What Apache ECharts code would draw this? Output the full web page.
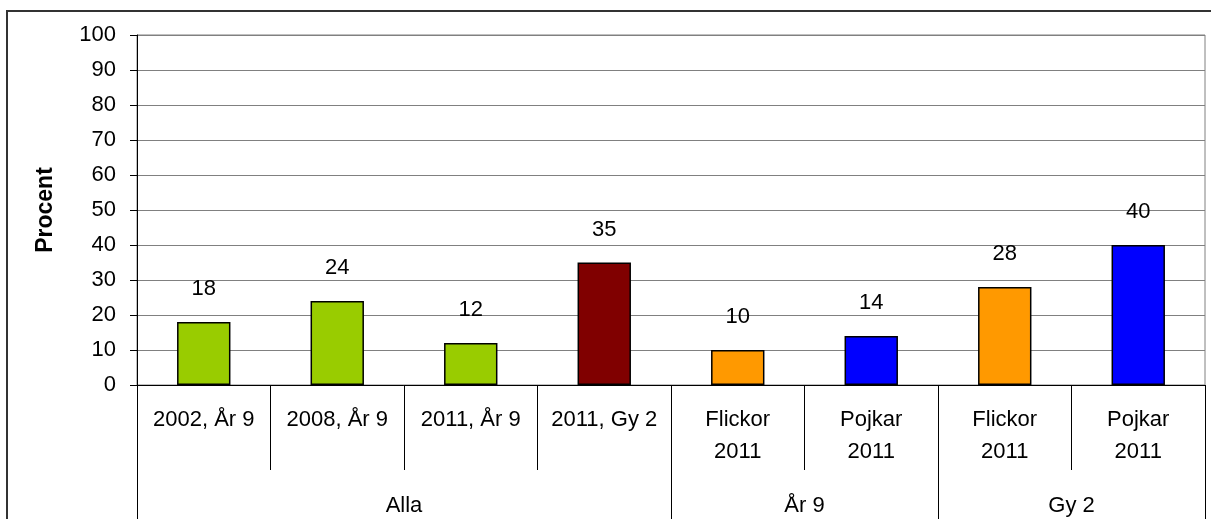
<!DOCTYPE html>
<html>
<head>
<meta charset="utf-8">
<script src="https://cdn.jsdelivr.net/npm/echarts@6/dist/echarts.min.js"></script>
<style>
    html, body { margin: 0; padding: 0; background: #fff; }
    #chart { width: 1211px; height: 519px; }
</style>
</head>
<body>
<div id="chart"></div>
<script>
// kategorier och värden
let categories = ["2002, År 9", "2008, År 9", "2011, År 9", "2011, Gy 2", "Flickor\n2011", "Pojkar\n2011", "Flickor\n2011", "Pojkar\n2011"];
let values = [18, 24, 12, 35, 10, 14, 28, 40];
let barColors = ["#99cc00", "#99cc00", "#99cc00", "#800000", "#ff9900", "#0000ff", "#ff9900", "#0000ff"];
// grupper under kategorierna
let groupNames = ["Alla", "År 9", "Gy 2"];
let groupCenters = [2, 5, 7];
let groupEdges = [0, 4, 6, 8];
let yTicks = [0, 10, 20, 30, 40, 50, 60, 70, 80, 90, 100];

let font = "Liberation Sans, Arial, sans-serif";
let mychart = echarts.init(document.getElementById("chart"));

let options = {
    animation: false,
    textStyle: { fontFamily: font },
    graphic: [{
        type: "polyline",
        shape: { points: [[7, 530], [7, 11], [1220, 11]] },
        style: { stroke: "#333", lineWidth: 2, fill: null }
    }],
    grid: { left: 137, top: 35, right: 6, bottom: 134, show: true, borderColor: "#808080", borderWidth: 1 },
    xAxis: [{
        type: "category",
        data: categories,
        axisLine: { lineStyle: { color: "#000", width: 1 } },
        axisTick: { show: true, interval: 0, length: 85, lineStyle: { color: "#000" } },
        axisLabel: { interval: 0, margin: 19, color: "#000", fontSize: 22, lineHeight: 32, fontFamily: font }
    }, {
        type: "value",
        position: "bottom",
        min: 0,
        max: 8,
        axisLine: { show: false },
        splitLine: { show: false },
        axisTick: { show: true, customValues: groupEdges, length: 140, lineStyle: { color: "#000" } },
        axisLabel: {
            customValues: groupCenters,
            margin: 110,
            color: "#000",
            fontSize: 22,
            fontFamily: font,
            formatter: function (v) {
                return groupNames[groupCenters.indexOf(v)];
            }
        }
    }],
    yAxis: {
        type: "value",
        min: 0,
        max: 100,
        interval: 10,
        name: "Procent",
        nameLocation: "middle",
        nameGap: 80,
        nameTextStyle: { fontWeight: "bold", fontSize: 23, color: "#000", fontFamily: font },
        axisLine: { show: true, lineStyle: { color: "#000" } },
        axisTick: { show: true, length: 7, lineStyle: { color: "#000" } },
        axisLabel: {
            margin: 21,
            color: "#000",
            fontSize: 22,
            fontFamily: font,
            customValues: yTicks
        },
        splitLine: { lineStyle: { color: "#808080", width: 1 } }
    },
    series: [{
        type: "bar",
        barWidth: "40%",
        data: values.map((v, i) => ({ value: v, itemStyle: { color: barColors[i] } })),
        itemStyle: { borderColor: "#000", borderWidth: 1.5 },
        label: {
            show: true,
            position: "top",
            distance: 22,
            color: "#000",
            fontSize: 22,
            fontFamily: font
        }
    }]
};
mychart.setOption(options);
</script>
</body>
</html>
